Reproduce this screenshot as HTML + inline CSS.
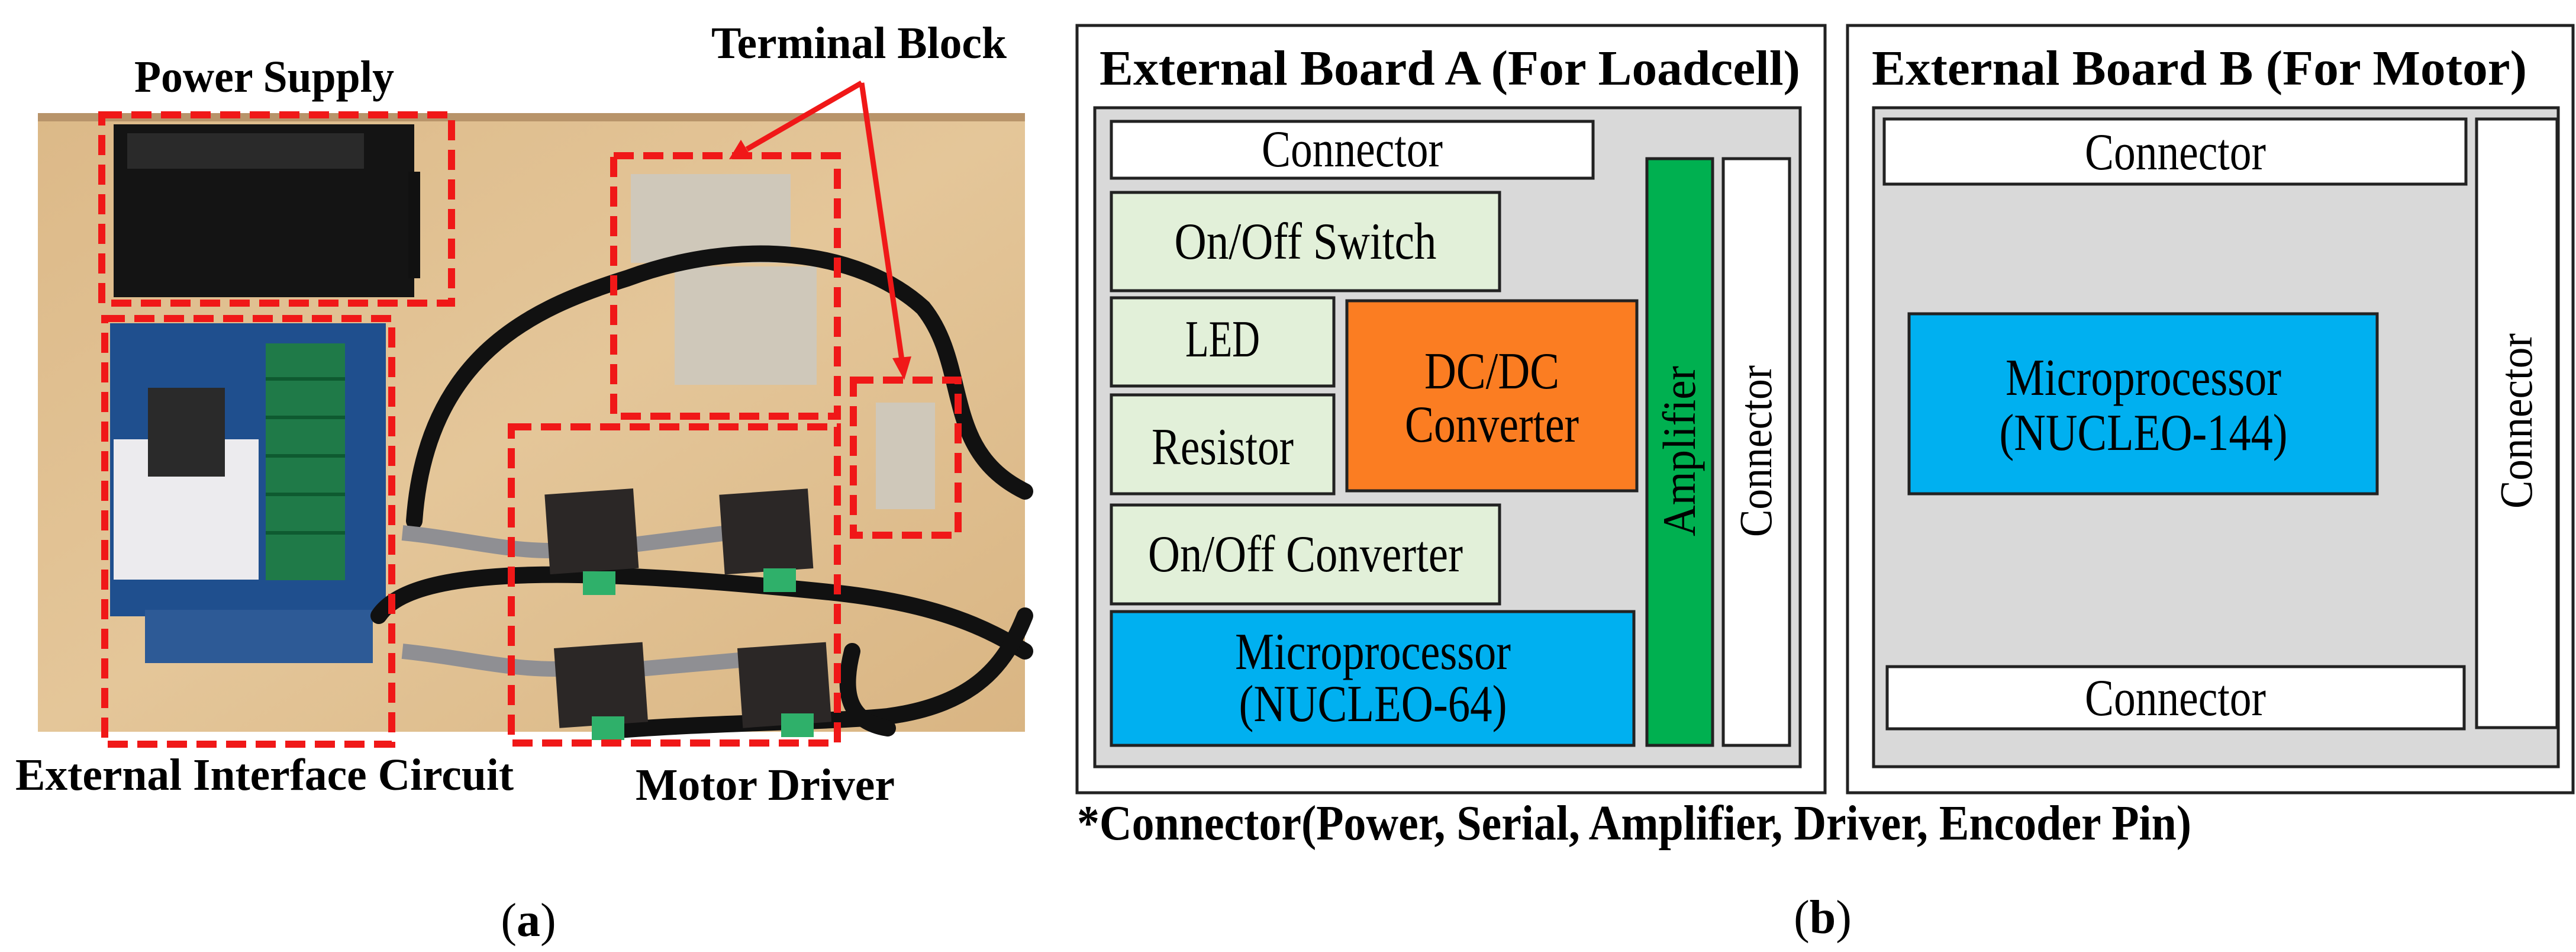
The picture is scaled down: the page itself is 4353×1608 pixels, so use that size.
<!DOCTYPE html>
<html><head><meta charset="utf-8"><style>html,body{margin:0;padding:0;background:#fff}svg{display:block}</style></head>
<body>
<svg width="4353" height="1608" viewBox="0 0 4353 1608" xmlns="http://www.w3.org/2000/svg">
<defs>
<linearGradient id="wood" x1="0" y1="0" x2="1" y2="1">
<stop offset="0" stop-color="#dcb988"/><stop offset="0.5" stop-color="#e4c699"/><stop offset="1" stop-color="#d9b583"/>
</linearGradient>
</defs>
<rect x="64" y="191" width="1668" height="1045" fill="url(#wood)"/>
<rect x="64" y="191" width="1668" height="14" fill="#b8946a"/>
<rect x="192" y="210" width="508" height="292" fill="#141414"/>
<rect x="215" y="225" width="400" height="60" fill="#2a2a2a"/>
<rect x="690" y="290" width="20" height="180" fill="#111"/>
<rect x="186" y="546" width="466" height="495" fill="#1f4f8e"/>
<rect x="245" y="1030" width="385" height="90" fill="#2d5a96"/>
<rect x="192" y="742" width="245" height="237" fill="#ecebee"/>
<rect x="250" y="655" width="130" height="150" fill="#2a2a2a"/>
<rect x="449" y="580" width="134" height="400" fill="#1f7a48"/>
<g stroke="#0e5a30" stroke-width="6">
<line x1="449" y1="640" x2="583" y2="640"/><line x1="449" y1="705" x2="583" y2="705"/><line x1="449" y1="770" x2="583" y2="770"/><line x1="449" y1="835" x2="583" y2="835"/><line x1="449" y1="900" x2="583" y2="900"/>
</g>
<rect x="1066" y="294" width="270" height="150" fill="#cfc8ba"/>
<rect x="1140" y="450" width="240" height="200" fill="#cfc8ba"/>
<rect x="1480" y="680" width="100" height="180" fill="#cfc8ba"/>
<g fill="none" stroke="#111" stroke-width="28" stroke-linecap="round">
<path d="M700 880 C720 600 900 520 1060 470 C1250 400 1450 420 1560 520 C1640 620 1590 760 1732 830"/>
<path d="M640 1040 C700 950 1000 960 1400 1000 C1600 1020 1680 1070 1732 1100"/>
<path d="M1020 1235 C1200 1220 1400 1220 1500 1210 C1650 1190 1700 1120 1732 1040"/>
<path d="M1440 1100 C1420 1180 1440 1220 1500 1230"/>
</g>
<g fill="none" stroke="#8f8f93" stroke-width="26">
<path d="M680 900 C780 910 850 930 930 930"/><path d="M680 1100 C780 1110 850 1130 940 1130"/>
<path d="M1070 920 L1230 900"/><path d="M1080 1130 L1250 1115"/>
</g>
<g fill="#2b2726">
<rect x="925" y="830" width="150" height="135" transform="rotate(-4 1000 900)"/>
<rect x="1220" y="830" width="150" height="135" transform="rotate(-4 1300 900)"/>
<rect x="940" y="1090" width="150" height="135" transform="rotate(-4 1010 1150)"/>
<rect x="1250" y="1090" width="150" height="135" transform="rotate(-4 1320 1150)"/>
</g>
<g fill="#2fb06a">
<rect x="985" y="965" width="55" height="40"/><rect x="1290" y="960" width="55" height="40"/>
<rect x="1000" y="1210" width="55" height="40"/><rect x="1320" y="1205" width="55" height="40"/>
</g>
<g fill="none" stroke="#f01818" stroke-width="12" stroke-dasharray="34 16">
<rect x="172" y="194" width="591" height="318"/>
<rect x="177" y="538" width="485" height="719"/>
<rect x="1037" y="263" width="378" height="440"/>
<rect x="1442" y="642" width="177" height="262"/>
<rect x="864" y="721" width="551" height="534"/>
</g>
<g stroke="#f01818" stroke-width="9" fill="none">
<line x1="1456" y1="140" x2="1262" y2="252"/>
<line x1="1456" y1="140" x2="1524" y2="608"/>
</g>
<polygon points="1232,269 1252,236 1270,266" fill="#f01818"/>
<polygon points="1528,642 1508,605 1540,602" fill="#f01818"/>
<g font-family="Liberation Serif, serif" font-weight="bold" font-size="76" fill="#000">
<text x="227" y="155" textLength="439" lengthAdjust="spacingAndGlyphs">Power Supply</text>
<text x="1202" y="98" textLength="499" lengthAdjust="spacingAndGlyphs">Terminal Block</text>
<text x="26" y="1334" textLength="842" lengthAdjust="spacingAndGlyphs">External Interface Circuit</text>
<text x="1074" y="1351" textLength="438" lengthAdjust="spacingAndGlyphs">Motor Driver</text>
</g>
<text x="893" y="1581" font-family="Liberation Serif, serif" font-size="80" text-anchor="middle">(<tspan font-weight="bold">a</tspan>)</text>

<g stroke="#222" stroke-width="5">
<rect x="1820" y="43" width="1264" height="1296" fill="#fff"/>
<rect x="3122" y="43" width="1226" height="1296" fill="#fff"/>
<rect x="1850" y="182" width="1192" height="1113" fill="#d9d9d9"/>
<rect x="3166" y="182" width="1157" height="1113" fill="#d9d9d9"/>
<rect x="1878" y="205" width="814" height="96" fill="#fff"/>
<rect x="1878" y="325" width="656" height="166" fill="#e2f0d9"/>
<rect x="1878" y="503" width="376" height="149" fill="#e2f0d9"/>
<rect x="1878" y="667" width="376" height="167" fill="#e2f0d9"/>
<rect x="2276" y="508" width="490" height="321" fill="#fb7d22"/>
<rect x="1878" y="853" width="656" height="167" fill="#e2f0d9"/>
<rect x="1878" y="1033" width="883" height="226" fill="#00b0f0"/>
<rect x="2783" y="268" width="111" height="991" fill="#00b050"/>
<rect x="2912" y="268" width="112" height="991" fill="#fff"/>
<rect x="3184" y="201" width="983" height="110" fill="#fff"/>
<rect x="4185" y="201" width="136" height="1028" fill="#fff"/>
<rect x="3226" y="530" width="791" height="304" fill="#00b0f0"/>
<rect x="3189" y="1126" width="975" height="105" fill="#fff"/>
</g>
<g font-family="Liberation Serif, serif" font-weight="bold" font-size="84" fill="#000">
<text x="1858" y="143" textLength="1184" lengthAdjust="spacingAndGlyphs">External Board A (For Loadcell)</text>
<text x="3163" y="143" textLength="1107" lengthAdjust="spacingAndGlyphs">External Board B (For Motor)</text>
<text x="1820" y="1418" textLength="1883" lengthAdjust="spacingAndGlyphs">*Connector(Power, Serial, Amplifier, Driver, Encoder Pin)</text>
</g>
<g font-family="Liberation Serif, serif" font-size="88" fill="#000" text-anchor="middle" lengthAdjust="spacingAndGlyphs">
<text x="2285" y="281" textLength="306" lengthAdjust="spacingAndGlyphs">Connector</text>
<text x="2206" y="437" textLength="443" lengthAdjust="spacingAndGlyphs">On/Off Switch</text>
<text x="2066" y="602" textLength="126" lengthAdjust="spacingAndGlyphs">LED</text>
<text x="2066" y="784" textLength="240" lengthAdjust="spacingAndGlyphs">Resistor</text>
<text x="2521" y="656" textLength="228" lengthAdjust="spacingAndGlyphs">DC/DC</text>
<text x="2521" y="746" textLength="294" lengthAdjust="spacingAndGlyphs">Converter</text>
<text x="2206" y="965" textLength="532" lengthAdjust="spacingAndGlyphs">On/Off Converter</text>
<text x="2320" y="1130" textLength="466" lengthAdjust="spacingAndGlyphs">Microprocessor</text>
<text x="2320" y="1218" textLength="453" lengthAdjust="spacingAndGlyphs">(NUCLEO-64)</text>
<text x="3676" y="286" textLength="306" lengthAdjust="spacingAndGlyphs">Connector</text>
<text x="3622" y="667" textLength="466" lengthAdjust="spacingAndGlyphs">Microprocessor</text>
<text x="3622" y="760" textLength="487" lengthAdjust="spacingAndGlyphs">(NUCLEO-144)</text>
<text x="3676" y="1208" textLength="306" lengthAdjust="spacingAndGlyphs">Connector</text>
</g>
<g font-family="Liberation Serif, serif" font-size="78" fill="#000" text-anchor="middle">
<text transform="translate(2864 762) rotate(-90)" textLength="288" lengthAdjust="spacingAndGlyphs">Amplifier</text>
<text transform="translate(2993 762) rotate(-90)" textLength="290" lengthAdjust="spacingAndGlyphs">Connector</text>
<text transform="translate(4278 711) rotate(-90)" textLength="296" lengthAdjust="spacingAndGlyphs">Connector</text>
</g>
<text x="3080" y="1576" font-family="Liberation Serif, serif" font-size="80" text-anchor="middle">(<tspan font-weight="bold">b</tspan>)</text>
</svg>
</body></html>
